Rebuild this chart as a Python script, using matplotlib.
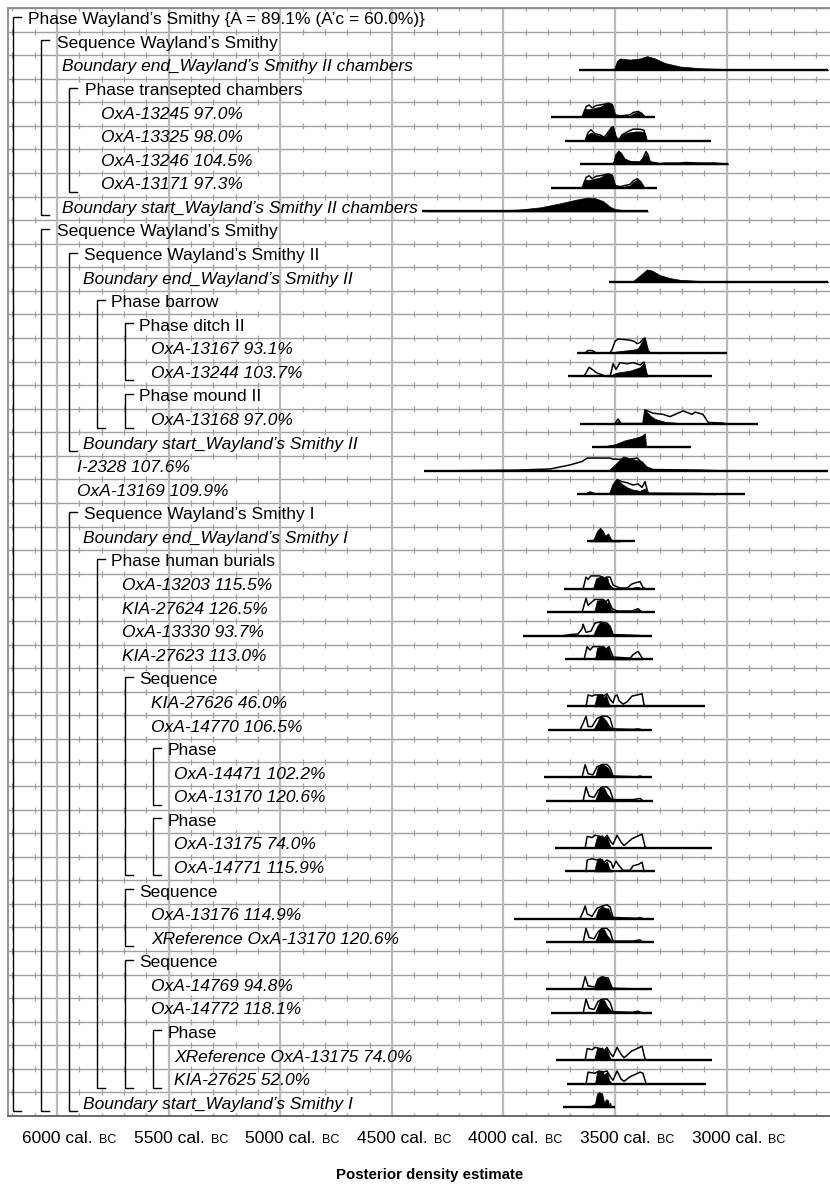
import numpy as np
import matplotlib.pyplot as plt
from matplotlib import transforms

plt.rcParams['font.family'] = ['Liberation Sans', 'DejaVu Sans']

# ---- data ----
row_labels = [
    "Phase Wayland\u2019s Smithy {A = 89.1% (A\u2019c = 60.0%)}",
    "Sequence Wayland\u2019s Smithy",
    "Boundary end_Wayland\u2019s Smithy II chambers",
    "Phase transepted chambers",
    "OxA-13245 97.0%",
    "OxA-13325 98.0%",
    "OxA-13246 104.5%",
    "OxA-13171 97.3%",
    "Boundary start_Wayland\u2019s Smithy II chambers",
    "Sequence Wayland\u2019s Smithy",
    "Sequence Wayland\u2019s Smithy II",
    "Boundary end_Wayland\u2019s Smithy II",
    "Phase barrow",
    "Phase ditch II",
    "OxA-13167 93.1%",
    "OxA-13244 103.7%",
    "Phase mound II",
    "OxA-13168 97.0%",
    "Boundary start_Wayland\u2019s Smithy II",
    "I-2328 107.6%",
    "OxA-13169 109.9%",
    "Sequence Wayland\u2019s Smithy I",
    "Boundary end_Wayland\u2019s Smithy I",
    "Phase human burials",
    "OxA-13203 115.5%",
    "KIA-27624 126.5%",
    "OxA-13330 93.7%",
    "KIA-27623 113.0%",
    "Sequence",
    "KIA-27626 46.0%",
    "OxA-14770 106.5%",
    "Phase",
    "OxA-14471 102.2%",
    "OxA-13170 120.6%",
    "Phase",
    "OxA-13175 74.0%",
    "OxA-14771 115.9%",
    "Sequence",
    "OxA-13176 114.9%",
    "XReference OxA-13170 120.6%",
    "Sequence",
    "OxA-14769 94.8%",
    "OxA-14772 118.1%",
    "Phase",
    "XReference OxA-13175 74.0%",
    "KIA-27625 52.0%",
    "Boundary start_Wayland\u2019s Smithy I",
]

# (first row, last row, nesting depth) of each Phase / Sequence bracket
group_spans = [
    (1, 47, 0), (2, 9, 1), (4, 8, 2), (10, 47, 1), (11, 19, 2), (13, 18, 3),
    (14, 16, 4), (17, 18, 4), (22, 47, 2), (24, 46, 3), (29, 37, 4),
    (32, 34, 5), (35, 37, 5), (38, 40, 4), (41, 46, 4), (44, 46, 5),
]

# cal. BC extent of each distribution's base line
baseline_ranges = {
    "Boundary end_Wayland\u2019s Smithy II chambers": (3661, 2546),
    "OxA-13245 97.0%": (3787, 3321),
    "OxA-13325 98.0%": (3724, 3070),
    "OxA-13246 104.5%": (3657, 2994),
    "OxA-13171 97.3%": (3787, 3312),
    "Boundary start_Wayland\u2019s Smithy II chambers": (4365, 3352),
    "Boundary end_Wayland\u2019s Smithy II": (3527, 2546),
    "OxA-13167 93.1%": (3670, 2998),
    "OxA-13244 103.7%": (3711, 3065),
    "OxA-13168 97.0%": (3657, 2860),
    "Boundary start_Wayland\u2019s Smithy II": (3603, 3160),
    "I-2328 107.6%": (4356, 2546),
    "OxA-13169 109.9%": (3670, 2918),
    "Boundary end_Wayland\u2019s Smithy I": (3625, 3410),
    "OxA-13203 115.5%": (3728, 3321),
    "KIA-27624 126.5%": (3805, 3321),
    "OxA-13330 93.7%": (3912, 3334),
    "KIA-27623 113.0%": (3724, 3330),
    "KIA-27626 46.0%": (3715, 3097),
    "OxA-14770 106.5%": (3800, 3334),
    "OxA-14471 102.2%": (3818, 3334),
    "OxA-13170 120.6%": (3809, 3330),
    "OxA-13175 74.0%": (3769, 3065),
    "OxA-14771 115.9%": (3724, 3321),
    "OxA-13176 114.9%": (3952, 3325),
    "XReference OxA-13170 120.6%": (3809, 3325),
    "OxA-14769 94.8%": (3809, 3334),
    "OxA-14772 118.1%": (3787, 3334),
    "XReference OxA-13175 74.0%": (3764, 3065),
    "KIA-27625 52.0%": (3715, 3092),
    "Boundary start_Wayland\u2019s Smithy I": (3733, 3500),
}

# unmodelled (likelihood) outlines: (cal. BC, relative height)
likelihoods = {
    "OxA-13245 97.0%": [(3643, 0), (3630, 9), (3616, 10.5), (3603, 8), (3585, 10), (3554, 11), (3531, 12), (3513, 11), (3500, 2), (3478, 1), (3433, 2), (3419, 4), (3397, 5), (3379, 3), (3366, 0)],
    "OxA-13325 98.0%": [(3634, 0), (3621, 7), (3608, 9.5), (3590, 6), (3567, 5), (3549, 3), (3536, 6), (3518, 11), (3509, 12), (3496, 3), (3482, 1), (3469, 5), (3442, 8), (3419, 10), (3388, 10), (3370, 9), (3361, 0)],
    "OxA-13246 104.5%": [(3504, 0), (3496, 8), (3482, 11), (3469, 8), (3455, 4), (3433, 2), (3388, 2), (3375, 5), (3361, 11), (3352, 8), (3343, 2), (3298, 0.5), (3276, 1), (3209, 1), (3186, 1.5), (3119, 1), (3052, 1), (2994, 0)],
    "OxA-13171 97.3%": [(3643, 0), (3630, 9), (3616, 10.5), (3603, 8), (3585, 10), (3554, 11), (3531, 12), (3513, 11), (3500, 2), (3478, 1), (3433, 3), (3419, 6), (3401, 8), (3384, 5), (3370, 0)],
    "OxA-13167 93.1%": [(3634, 0), (3621, 2), (3603, 2), (3585, 0), (3522, 0), (3513, 3), (3500, 10), (3487, 12), (3455, 11.5), (3433, 11), (3415, 10), (3401, 8), (3388, 9), (3375, 12), (3366, 13), (3352, 2), (3343, 0)],
    "OxA-13244 103.7%": [(3639, 0), (3616, 8), (3581, 3), (3540, 0), (3522, 0), (3509, 11), (3496, 6), (3478, 12), (3446, 11), (3419, 12), (3388, 10), (3370, 12.5), (3357, 0)],
    "OxA-13168 97.0%": [(3500, 0), (3487, 4), (3473, 0), (3375, 0), (3366, 12), (3330, 9), (3285, 8), (3254, 6), (3195, 11), (3155, 8), (3142, 10), (3106, 8), (3083, 1), (3021, 0.5), (3007, 0)],
    "I-2328 107.6%": [(4194, 0), (3939, 0.5), (3791, 1.5), (3702, 5), (3648, 8), (3625, 11), (3522, 11), (3509, 10), (3433, 10), (3401, 11), (3357, 3), (3330, 1), (3195, 0.7), (3119, 0.5), (3043, 0)],
    "OxA-13169 109.9%": [(3634, 0), (3612, 2), (3590, 0.5), (3522, 0.5), (3509, 8), (3491, 12.7), (3469, 11), (3446, 10), (3419, 8), (3397, 9), (3379, 6), (3366, 11), (3352, 1), (3195, 0.7), (3133, 0.7), (3050, 0)],
    "OxA-13203 115.5%": [(3643, 0), (3630, 10), (3621, 8), (3608, 11), (3567, 11), (3549, 8), (3540, 10), (3522, 10), (3509, 3), (3478, 0.5), (3446, 0.5), (3424, 4), (3410, 5), (3388, 6), (3375, 1), (3366, 0)],
    "KIA-27624 126.5%": [(3648, 0), (3630, 12), (3621, 6), (3603, 9), (3590, 11), (3554, 11), (3540, 9), (3531, 11), (3513, 3), (3491, 1), (3424, 1), (3397, 3), (3379, 0)],
    "OxA-13330 93.7%": [(3733, 0), (3702, 1), (3666, 1.5), (3648, 6), (3643, 10), (3630, 3), (3608, 4), (3590, 11), (3567, 12), (3536, 11), (3522, 8), (3509, 1), (3433, 0.5), (3380, 0)],
    "KIA-27623 113.0%": [(3639, 0), (3625, 11), (3612, 8), (3599, 11), (3567, 11), (3540, 9), (3527, 11), (3509, 2), (3433, 1), (3419, 4), (3397, 7), (3375, 0)],
    "KIA-27626 46.0%": [(3630, 0), (3621, 10), (3603, 9), (3590, 10), (3567, 10), (3554, 9), (3536, 11), (3522, 6), (3509, 3), (3500, 9), (3491, 10), (3482, 5), (3464, 2), (3446, 4), (3424, 9), (3401, 10), (3379, 11), (3370, 1), (3357, 0)],
    "OxA-14770 106.5%": [(3657, 0), (3643, 6), (3630, 12), (3621, 3), (3603, 3), (3581, 10), (3558, 12), (3536, 12), (3522, 10), (3509, 1), (3419, 0.5), (3397, 1), (3375, 0)],
    "OxA-14471 102.2%": [(3648, 0), (3634, 11), (3621, 3), (3599, 2), (3581, 9), (3558, 11), (3536, 11), (3522, 8), (3509, 1), (3400, 0.3), (3388, 1), (3375, 0)],
    "OxA-13170 120.6%": [(3643, 0), (3630, 12), (3616, 4), (3594, 3), (3576, 9), (3558, 12), (3536, 12), (3522, 9), (3509, 1), (3419, 1), (3388, 2), (3375, 0)],
    "OxA-13175 74.0%": [(3634, 0), (3625, 10), (3603, 9), (3590, 11), (3567, 10), (3549, 8), (3536, 11), (3518, 5), (3509, 3), (3491, 11), (3473, 5), (3460, 2), (3442, 5), (3424, 8), (3401, 10), (3379, 12), (3366, 1), (3357, 0)],
    "OxA-14771 115.9%": [(3630, 0), (3625, 10), (3603, 11), (3581, 10), (3567, 11), (3549, 8), (3536, 10), (3518, 8), (3509, 3), (3496, 9), (3482, 5), (3464, 1), (3433, 1), (3419, 5), (3397, 6), (3379, 8), (3370, 0)],
    "OxA-13176 114.9%": [(3657, 0), (3643, 6), (3634, 11), (3625, 4), (3603, 2), (3581, 9), (3558, 11), (3536, 12), (3522, 10), (3509, 1), (3400, 0.3), (3388, 1), (3375, 0)],
    "OxA-14769 94.8%": [(3648, 0), (3634, 11), (3621, 3), (3590, 2), (3576, 9), (3558, 11), (3540, 10), (3531, 10), (3513, 1), (3400, 0.3), (3388, 0.5), (3375, 0)],
    "OxA-14772 118.1%": [(3643, 0), (3630, 12), (3616, 4), (3594, 3), (3576, 10), (3558, 12), (3536, 12), (3522, 9), (3509, 1), (3419, 0.5), (3397, 1.5), (3379, 0)],
    "KIA-27625 52.0%": [(3630, 0), (3621, 10), (3590, 9), (3572, 11), (3554, 10), (3536, 11), (3518, 5), (3509, 3), (3491, 11), (3473, 4), (3460, 2), (3433, 6), (3410, 8), (3388, 10), (3375, 9), (3361, 0)],
}
likelihoods["XReference OxA-13170 120.6%"] = likelihoods["OxA-13170 120.6%"]
likelihoods["XReference OxA-13175 74.0%"] = likelihoods["OxA-13175 74.0%"]

# modelled (posterior) densities: (cal. BC, relative height)
posteriors = {
    "Boundary end_Wayland\u2019s Smithy II chambers": [(3661, 0), (3567, 0.5), (3504, 1), (3491, 8), (3478, 10), (3455, 9.5), (3433, 9), (3388, 10), (3357, 12), (3321, 10), (3276, 6), (3209, 3), (3119, 1.5), (2940, 0.5), (2546, 0)],
    "OxA-13245 97.0%": [(3652, 0), (3639, 7), (3612, 7), (3590, 8), (3567, 9), (3549, 11), (3531, 12.5), (3513, 11), (3500, 2), (3478, 0.5), (3433, 1), (3419, 3), (3401, 4.5), (3384, 3), (3370, 0)],
    "OxA-13325 98.0%": [(3639, 0), (3625, 5), (3608, 7), (3585, 5), (3563, 4), (3545, 3), (3531, 7), (3518, 12), (3509, 13), (3496, 3), (3482, 1), (3469, 5), (3442, 7), (3410, 8), (3384, 8), (3366, 7), (3357, 0)],
    "OxA-13246 104.5%": [(3513, 0), (3500, 6), (3487, 12), (3473, 10), (3460, 5), (3433, 3), (3388, 2), (3375, 5), (3361, 9), (3348, 3), (3321, 1), (3276, 1), (3186, 1.2), (3119, 0.8), (2994, 0)],
    "OxA-13171 97.3%": [(3652, 0), (3639, 7), (3612, 7), (3590, 8), (3567, 9), (3549, 11), (3531, 12.5), (3513, 11), (3500, 2), (3478, 0.5), (3433, 2), (3419, 5), (3401, 7), (3384, 4), (3366, 0)],
    "Boundary start_Wayland\u2019s Smithy II chambers": [(4351, 0.3), (4194, 0.5), (4015, 1), (3926, 1.7), (3836, 3.5), (3746, 7), (3679, 10), (3625, 12), (3590, 11.5), (3554, 9), (3522, 4), (3500, 2), (3455, 1), (3352, 0)],
    "Boundary end_Wayland\u2019s Smithy II": [(3527, 0), (3419, 1), (3375, 8), (3357, 11), (3334, 10), (3298, 6), (3254, 3.5), (3209, 2), (3119, 1), (2895, 0.3), (2546, 0)],
    "OxA-13167 93.1%": [(3509, 0), (3500, 1), (3455, 2), (3410, 3), (3397, 4), (3388, 7), (3370, 13), (3357, 3), (3343, 0)],
    "OxA-13244 103.7%": [(3522, 0), (3500, 3), (3433, 5), (3388, 8), (3370, 12), (3361, 4), (3352, 0)],
    "OxA-13168 97.0%": [(3500, 0), (3487, 2), (3473, 0), (3375, 0), (3366, 12), (3343, 7), (3321, 4), (3276, 1.5), (3209, 0.5), (3119, 0.2), (3050, 0)],
    "Boundary start_Wayland\u2019s Smithy II": [(3603, 0), (3567, 0.3), (3500, 2.5), (3455, 6), (3410, 8), (3380, 10), (3366, 12), (3361, 0)],
    "I-2328 107.6%": [(3531, 0), (3513, 3), (3464, 12.5), (3419, 10), (3379, 8), (3357, 3), (3330, 1), (3195, 0.4), (3043, 0)],
    "OxA-13169 109.9%": [(3525, 0), (3509, 8), (3491, 13), (3469, 9), (3446, 6), (3419, 4), (3388, 3), (3366, 5), (3352, 1), (3195, 0.5), (3133, 0.5), (3050, 0)],
    "Boundary end_Wayland\u2019s Smithy I": [(3612, 0), (3603, 1), (3594, 3), (3581, 9), (3567, 12), (3554, 9), (3545, 5), (3531, 7), (3518, 2), (3504, 0.5), (3480, 0)],
    "OxA-13203 115.5%": [(3599, 0), (3585, 9), (3558, 11), (3545, 9), (3536, 10), (3527, 4), (3513, 1), (3478, 0), (3433, 0), (3419, 1), (3397, 1.5), (3380, 0)],
    "KIA-27624 126.5%": [(3594, 0), (3581, 10), (3554, 11), (3536, 8), (3531, 9), (3518, 2), (3491, 0.3), (3424, 1), (3397, 2), (3379, 0)],
    "OxA-13330 93.7%": [(3599, 0), (3581, 8), (3567, 12), (3545, 11), (3527, 9), (3509, 1), (3490, 0)],
    "KIA-27623 113.0%": [(3590, 0), (3581, 10), (3554, 12), (3540, 9), (3531, 10), (3518, 3), (3500, 0), (3433, 0), (3419, 1), (3397, 1.5), (3380, 0)],
    "KIA-27626 46.0%": [(3594, 0), (3581, 10), (3558, 11), (3549, 8), (3540, 10), (3531, 4), (3520, 0)],
    "OxA-14770 106.5%": [(3599, 0), (3581, 6), (3567, 12), (3554, 11), (3540, 8), (3531, 5), (3513, 1), (3500, 0)],
    "OxA-14471 102.2%": [(3590, 0), (3576, 10), (3558, 11), (3545, 10), (3531, 8), (3513, 1), (3500, 0)],
    "OxA-13170 120.6%": [(3590, 0), (3576, 7), (3567, 12), (3549, 11), (3536, 6), (3527, 4), (3513, 1), (3500, 0)],
    "OxA-13175 74.0%": [(3594, 0), (3581, 10), (3558, 11), (3549, 8), (3536, 10), (3527, 4), (3518, 0)],
    "OxA-14771 115.9%": [(3594, 0), (3581, 10), (3558, 11), (3549, 7), (3536, 9), (3527, 3), (3513, 0)],
    "OxA-13176 114.9%": [(3590, 0), (3576, 8), (3558, 11), (3545, 9), (3531, 9), (3513, 1), (3500, 0)],
    "OxA-14769 94.8%": [(3590, 0), (3581, 8), (3567, 11), (3540, 10), (3531, 8), (3513, 1), (3500, 0)],
    "OxA-14772 118.1%": [(3590, 0), (3576, 7), (3567, 12), (3549, 11), (3536, 6), (3527, 4), (3513, 1), (3500, 0)],
    "KIA-27625 52.0%": [(3590, 0), (3581, 10), (3558, 11), (3549, 8), (3536, 10), (3527, 3), (3513, 0)],
    "Boundary start_Wayland\u2019s Smithy I": [(3634, 0), (3612, 1), (3590, 3), (3581, 12), (3572, 13), (3558, 12), (3549, 4), (3540, 7), (3531, 6), (3527, 1), (3522, 4), (3518, 1), (3509, 0)],
}
posteriors["XReference OxA-13170 120.6%"] = posteriors["OxA-13170 120.6%"]
posteriors["XReference OxA-13175 74.0%"] = posteriors["OxA-13175 74.0%"]

axis_years = [6000, 5500, 5000, 4500, 4000, 3500, 3000]
x_range = (6220, 2537)

# ---- layout (pixels) ----
W, H = 830, 1186
AX_L, AX_R, AX_T, AX_B = 8, 830, 8, 1116
n_rows = len(row_labels)
ROW_PX = (AX_B - AX_T) / n_rows
BASE_OFF = 3 / ROW_PX            # base line sits 3 px below the label centre
HEIGHT_SCALE = 1.15
label_x_px = [28, 57, 62, 85, 101, 101, 101, 101, 62, 57, 84, 83, 111, 139, 151, 151,
              139, 151, 83, 77, 77, 84, 83, 111, 122, 122, 122, 122, 139, 151, 151,
              168, 174, 174, 168, 174, 174, 139, 151, 151, 139, 151, 151, 168, 174,
              174, 83]

fig = plt.figure(figsize=(W / 100, H / 100), dpi=100)
ax = fig.add_axes([AX_L / W, (H - AX_B) / H, (AX_R - AX_L) / W, (AX_B - AX_T) / H])
ax.set_xlim(*x_range)
ax.set_ylim(n_rows + 0.5, 0.5)
ax.set_xticks([])
ax.set_yticks([])
for side in ['top', 'left', 'bottom']:
    ax.spines[side].set_color('#8c8c8c')
    ax.spines[side].set_linewidth(1.3)
ax.spines['bottom'].set_color('#606060')
ax.spines['right'].set_visible(False)

# grid: row separators with century ticks, and 500-year verticals
grid_c = '#a0a0a0'
centuries = np.arange(6200, 2500, -100)
for b in np.arange(0.5, n_rows + 1, 1.0):
    ax.axhline(b, color=grid_c, lw=1.0, zorder=1)
    ax.plot(centuries, np.full(len(centuries), b), ls='none', marker='|',
            ms=4.5, mew=0.9, color=grid_c, zorder=1)
for yr in axis_years:
    ax.axvline(yr, color='#bababa', lw=1.6, zorder=1)


def ax_frac(px):
    # pixel x -> axes fraction
    return (px - AX_L) / (AX_R - AX_L)


ytrans = ax.get_yaxis_transform()

# brackets
for first, last, depth in group_spans:
    xv = ax_frac(13 + 28 * depth)
    xh = ax_frac(13 + 28 * depth + 8)
    y0 = first - 3 / ROW_PX
    y1 = last + 7 / ROW_PX
    ax.plot([xh, xv, xv, xh], [y0, y0, y1, y1], color='black', lw=1.0,
            transform=ytrans, zorder=3, solid_joinstyle='miter')

# labels
for r, (label, px) in enumerate(zip(row_labels, label_x_px), start=1):
    is_group = label.startswith('Phase') or label.startswith('Sequence')
    ax.text(ax_frac(px), r, label, transform=ytrans, fontsize=12.5,
            style='normal' if is_group else 'italic', ha='left',
            va='center', zorder=4)

# distributions
for r, label in enumerate(row_labels, start=1):
    if label not in baseline_ranges:
        continue
    base = r + BASE_OFF
    if label in likelihoods:
        xs, hs = zip(*likelihoods[label])
        ys = base - np.array(hs) * HEIGHT_SCALE / ROW_PX
        ax.fill_between(xs, base, ys, facecolor='white', edgecolor='none', zorder=5)
        ax.plot(xs, ys, color='black', lw=1.1, zorder=6)
    xs, hs = zip(*posteriors[label])
    ys = base - np.array(hs) * HEIGHT_SCALE / ROW_PX
    ax.fill_between(xs, base, ys, facecolor='black', edgecolor='black', lw=0.5, zorder=7)
    x0, x1 = baseline_ranges[label]
    ax.plot([x0, x1], [base, base], color='black', lw=1.7, zorder=8,
            solid_capstyle='butt')

# x axis labels: "6000 cal. BC" with small-caps BC
LAB_BASE_PX = 1143   # baseline of the axis labels, from the top
lab_trans = transforms.offset_copy(ax.get_xaxis_transform(), fig=fig,
                                   x=-35, y=-(LAB_BASE_PX - AX_B), units='dots')
fig.canvas.draw()
renderer = fig.canvas.get_renderer()
for yr in axis_years:
    t = ax.text(yr, 0, f"{yr} cal.", transform=lab_trans, fontsize=12.5,
                ha='left', va='baseline')
    bb = t.get_window_extent(renderer=renderer)
    fig.text((bb.x1 + 6) / W, (H - LAB_BASE_PX) / H, "BC", fontsize=9,
             ha='left', va='baseline')

fig.text(430 / W, (H - 1175) / H, "Posterior density estimate", fontsize=10.8,
         fontweight='bold', ha='center', va='center')

fig.savefig('out.png', dpi=100)
